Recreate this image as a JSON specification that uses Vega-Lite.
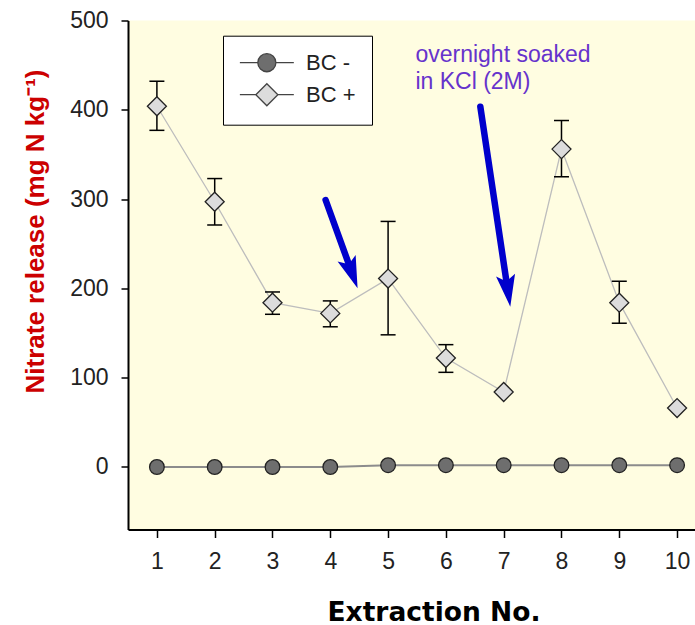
{
  "$schema": "https://vega.github.io/schema/vega-lite/v6.json",
  "autosize": {"type": "none"},
  "padding": {"left": 128, "top": 20.5, "right": 0, "bottom": 95.5},
  "width": 567,
  "height": 509,
  "background": "white",
  "config": {"view": {"fill": "#FFFDE1", "stroke": null}, "font": "Liberation Sans"},
  "datasets": {
    "series": [
      {"x": 1, "series": "BC +", "y": 404, "lo": 377, "hi": 432},
      {"x": 2, "series": "BC +", "y": 297, "lo": 271, "hi": 323},
      {"x": 3, "series": "BC +", "y": 184, "lo": 171, "hi": 196},
      {"x": 4, "series": "BC +", "y": 172, "lo": 157, "hi": 186},
      {"x": 5, "series": "BC +", "y": 211, "lo": 148, "hi": 275},
      {"x": 6, "series": "BC +", "y": 122, "lo": 106, "hi": 137},
      {"x": 7, "series": "BC +", "y": 84, "lo": null, "hi": null},
      {"x": 8, "series": "BC +", "y": 356, "lo": 325, "hi": 388},
      {"x": 9, "series": "BC +", "y": 184, "lo": 161, "hi": 208},
      {"x": 10, "series": "BC +", "y": 66, "lo": null, "hi": null},
      {"x": 1, "series": "BC -", "y": 0, "lo": null, "hi": null},
      {"x": 2, "series": "BC -", "y": 0, "lo": null, "hi": null},
      {"x": 3, "series": "BC -", "y": 0, "lo": null, "hi": null},
      {"x": 4, "series": "BC -", "y": 0, "lo": null, "hi": null},
      {"x": 5, "series": "BC -", "y": 2, "lo": null, "hi": null},
      {"x": 6, "series": "BC -", "y": 2, "lo": null, "hi": null},
      {"x": 7, "series": "BC -", "y": 2, "lo": null, "hi": null},
      {"x": 8, "series": "BC -", "y": 2, "lo": null, "hi": null},
      {"x": 9, "series": "BC -", "y": 2, "lo": null, "hi": null},
      {"x": 10, "series": "BC -", "y": 2, "lo": null, "hi": null}
    ],
    "arrows": [
      {"x": 3.919, "y": 299, "x2": 4.364, "y2": 219.4, "tx": 4.472, "ty": 200.1, "angle": -20},
      {"x": 6.596, "y": 403.5, "x2": 7.067, "y2": 199.4, "tx": 7.114, "ty": 179.5, "angle": -8.5}
    ],
    "notes": [
      {"x": 5.473, "y": 453.9, "label": ["overnight soaked", "in KCl (2M)"]}
    ]
  },
  "layer": [
    {
      "data": {"name": "series"},
      "transform": [{"filter": "datum.series === 'BC -'"}],
      "mark": {"type": "line", "stroke": "#8c8c8c", "strokeWidth": 2},
      "encoding": {
        "x": {
          "field": "x", "type": "quantitative",
          "scale": {"domain": [0.5, 10.31], "nice": false, "zero": false},
          "axis": {
            "title": "Extraction No.",
            "values": [1, 2, 3, 4, 5, 6, 7, 8, 9, 10],
            "format": "d",
            "grid": false,
            "domain": true, "domainColor": "#000", "domainWidth": 2,
            "ticks": true, "tickColor": "#000", "tickWidth": 1.5, "tickSize": 8,
            "labelFont": "Liberation Sans", "labelFontSize": 23, "labelColor": "#222",
            "labelPadding": 13, "labelFlush": false, "labelOverlap": false,
            "titleFont": "DejaVu Sans", "titleFontSize": 26.5, "titleFontWeight": "bold",
            "titleColor": "#000", "titleX": 305.5, "titleY": 90.5,
            "titleBaseline": "alphabetic", "titleAlign": "center"
          }
        },
        "y": {
          "field": "y", "type": "quantitative",
          "scale": {"domain": [-70, 500], "nice": false, "zero": false},
          "axis": {
            "title": "Nitrate release (mg N kg⁻¹)",
            "values": [0, 100, 200, 300, 400, 500],
            "format": "d",
            "grid": false,
            "domain": true, "domainColor": "#000", "domainWidth": 2,
            "ticks": true, "tickColor": "#000", "tickWidth": 1.5, "tickSize": 7,
            "labelFont": "Liberation Sans", "labelFontSize": 23, "labelColor": "#222",
            "labelPadding": 13, "labelFlush": false, "labelOverlap": false,
            "titleFont": "Liberation Sans", "titleFontSize": 26, "titleFontWeight": "bold",
            "titleColor": "#cc0000", "titleX": -85, "titleY": 210.5,
            "titleBaseline": "alphabetic", "titleAlign": "center", "titleAngle": 270
          }
        }
      }
    },
    {
      "data": {"name": "series"},
      "transform": [{"filter": "datum.series === 'BC +'"}],
      "mark": {"type": "line", "stroke": "#bdbdbd", "strokeWidth": 1.3},
      "encoding": {
        "x": {"field": "x", "type": "quantitative"},
        "y": {"field": "y", "type": "quantitative"}
      }
    },
    {
      "data": {"name": "series"},
      "transform": [{"filter": "datum.lo != null"}],
      "mark": {"type": "rule", "stroke": "#000", "strokeWidth": 1.5},
      "encoding": {
        "x": {"field": "x", "type": "quantitative"},
        "y": {"field": "lo", "type": "quantitative"},
        "y2": {"field": "hi"}
      }
    },
    {
      "data": {"name": "series"},
      "transform": [{"filter": "datum.lo != null"}],
      "mark": {"type": "tick", "orient": "horizontal", "size": 15, "thickness": 1.5, "color": "#000", "opacity": 1},
      "encoding": {
        "x": {"field": "x", "type": "quantitative"},
        "y": {"field": "lo", "type": "quantitative"}
      }
    },
    {
      "data": {"name": "series"},
      "transform": [{"filter": "datum.hi != null"}],
      "mark": {"type": "tick", "orient": "horizontal", "size": 15, "thickness": 1.5, "color": "#000", "opacity": 1},
      "encoding": {
        "x": {"field": "x", "type": "quantitative"},
        "y": {"field": "hi", "type": "quantitative"}
      }
    },
    {
      "data": {"name": "series"},
      "transform": [{"filter": "datum.series === 'BC +'"}],
      "mark": {"type": "point", "filled": true, "size": 361, "stroke": "#222", "strokeWidth": 1.3, "opacity": 1},
      "encoding": {
        "x": {"field": "x", "type": "quantitative"},
        "y": {"field": "y", "type": "quantitative"},
        "shape": {
          "field": "series", "type": "nominal",
          "scale": {"domain": ["BC +", "BC -"], "range": ["diamond", "circle"]},
          "legend": null
        },
        "fill": {
          "field": "series", "type": "nominal",
          "scale": {"domain": ["BC -", "BC +"], "range": ["#6e6e6e", "#dcdcdc"]},
          "legend": {
            "title": null, "orient": "none", "legendX": 95, "legendY": 15.2,
            "fillColor": "#ffffff", "strokeColor": "#000000", "padding": 16,
            "symbolSize": 361, "symbolOffset": 16.85, "labelOffset": 28.2,
            "labelFont": "Liberation Sans", "labelFontSize": 22, "labelColor": "#222",
            "rowPadding": 6, "cornerRadius": 0, "symbolOpacity": 1,
            "symbolStrokeColor": "#444", "symbolStrokeWidth": 1.3,
            "symbolType": {"expr": "datum.value === 'BC -' ? 'M-2.84,0H-0.95M0.95,0H2.84M-0.95,0A0.95,0.95,0,1,0,0.95,0A0.95,0.95,0,1,0,-0.95,0Z' : 'M-2.84,0H-1.16M1.16,0H2.84M-1.16,0L0,-1.16L1.16,0L0,1.16Z'"}
          }
        }
      }
    },
    {
      "data": {"name": "series"},
      "transform": [{"filter": "datum.series === 'BC -'"}],
      "mark": {"type": "point", "filled": true, "size": 215, "stroke": "#222", "strokeWidth": 1.3, "opacity": 1},
      "encoding": {
        "x": {"field": "x", "type": "quantitative"},
        "y": {"field": "y", "type": "quantitative"},
        "shape": {"field": "series", "type": "nominal", "legend": null},
        "fill": {
          "field": "series", "type": "nominal",
          "legend": {
            "title": null, "orient": "none", "legendX": 95, "legendY": 15.2,
            "fillColor": "#ffffff", "strokeColor": "#000000", "padding": 16,
            "symbolSize": 361, "symbolOffset": 16.85, "labelOffset": 28.2,
            "labelFont": "Liberation Sans", "labelFontSize": 22, "labelColor": "#222",
            "rowPadding": 6, "cornerRadius": 0, "symbolOpacity": 1,
            "symbolStrokeColor": "#444", "symbolStrokeWidth": 1.3,
            "symbolType": {"expr": "datum.value === 'BC -' ? 'M-2.84,0H-0.95M0.95,0H2.84M-0.95,0A0.95,0.95,0,1,0,0.95,0A0.95,0.95,0,1,0,-0.95,0Z' : 'M-2.84,0H-1.16M1.16,0H2.84M-1.16,0L0,-1.16L1.16,0L0,1.16Z'"}
          }
        }
      }
    },
    {
      "data": {"name": "arrows"},
      "mark": {"type": "rule", "stroke": "#0000cc", "strokeWidth": 6.5, "strokeCap": "round"},
      "encoding": {
        "x": {"field": "x", "type": "quantitative"},
        "y": {"field": "y", "type": "quantitative"},
        "x2": {"field": "x2"},
        "y2": {"field": "y2"}
      }
    },
    {
      "data": {"name": "arrows"},
      "mark": {"type": "point", "filled": true, "shape": "M0,0L-0.6,-2L0,-1.6L0.6,-2Z", "size": 1024, "fill": "#0000cc", "strokeWidth": 0, "opacity": 1},
      "encoding": {
        "x": {"field": "tx", "type": "quantitative"},
        "y": {"field": "ty", "type": "quantitative"},
        "angle": {"field": "angle", "type": "quantitative", "scale": null}
      }
    },
    {
      "data": {"name": "notes"},
      "mark": {"type": "text", "align": "left", "baseline": "alphabetic", "lineHeight": 27, "fontSize": 23, "font": "Liberation Sans", "color": "#6633cc"},
      "encoding": {
        "x": {"field": "x", "type": "quantitative"},
        "y": {"field": "y", "type": "quantitative"},
        "text": {"field": "label"}
      }
    },
    {
      "mark": {"type": "rule", "stroke": "#000", "strokeWidth": 2},
      "encoding": {"y": {"datum": 500}}
    }
  ]
}
